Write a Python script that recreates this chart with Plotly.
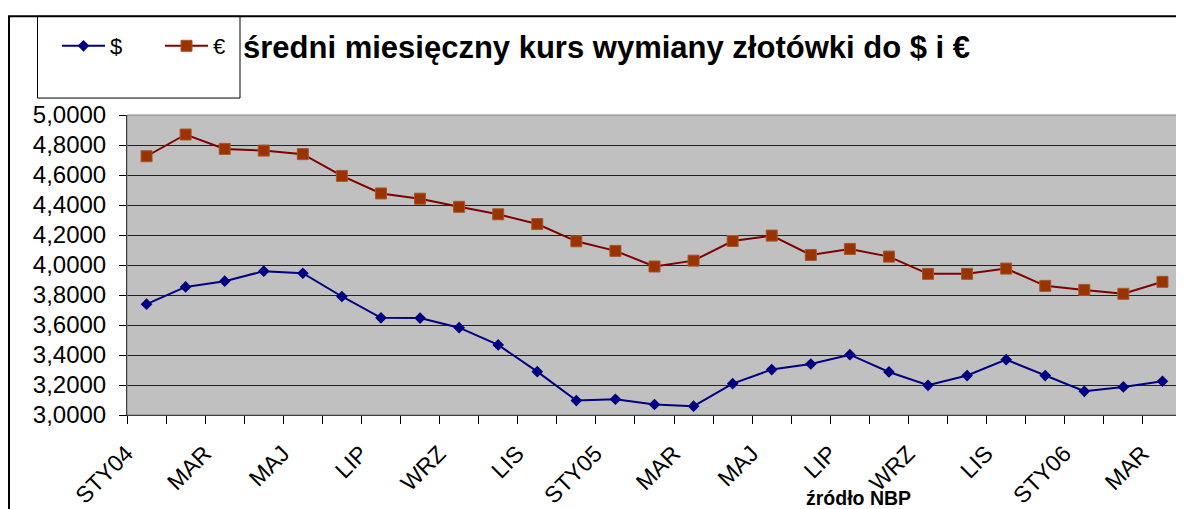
import plotly.graph_objects as go

months = ["STY04", "LUT", "MAR", "KWI", "MAJ", "CZE", "LIP", "SIE", "WRZ", "PAŹ", "LIS", "GRU",
          "STY05", "LUT", "MAR", "KWI", "MAJ", "CZE", "LIP", "SIE", "WRZ", "PAŹ", "LIS", "GRU",
          "STY06", "LUT", "MAR"]
usd = [3.739, 3.854, 3.892, 3.959, 3.945, 3.790, 3.648, 3.646, 3.582, 3.467, 3.289, 3.096,
       3.105, 3.070, 3.059, 3.209, 3.303, 3.340, 3.402, 3.287, 3.198, 3.263, 3.369, 3.263,
       3.158, 3.187, 3.225]
eur = [4.725, 4.870, 4.774, 4.763, 4.739, 4.594, 4.477, 4.442, 4.388, 4.338, 4.273, 4.158,
       4.094, 3.990, 4.029, 4.160, 4.196, 4.067, 4.107, 4.056, 3.941, 3.941, 3.976, 3.861,
       3.834, 3.808, 3.888]
series_names = ["$", "€"]
title_text = "średni miesięczny kurs wymiany złotówki do $ i €"
source_text = "źródło NBP"

# the page body adds an 8px margin, so the figure is laid out in screen coords minus 8
OFF = 8
W, H = 1184 - OFF, 509 - OFF
# plot area in screen pixels: left 127, right 1182, top 114.5, bottom 415.5
ML = 127 - OFF
MR = W - (1182 - OFF)
MT = 114.5 - OFF
MB = H - (415.5 - OFF)
PW, PH = W - ML - MR, H - MT - MB


def px(sx):
    return (sx - OFF - ML) / PW


def py(sy):
    return (H - MB - (sy - OFF)) / PH


FONT = "Arial, Liberation Sans, sans-serif"
x = list(range(len(months)))

fig = go.Figure()
fig.add_trace(go.Scatter(
    x=x, y=usd, name=series_names[0], mode="lines+markers",
    line=dict(color="#000080", width=2),
    marker=dict(symbol="diamond", size=9, color="#000080", line=dict(width=0)),
))
fig.add_trace(go.Scatter(
    x=x, y=eur, name=series_names[1], mode="lines+markers",
    line=dict(color="#800000", width=2),
    marker=dict(symbol="square", size=11, color="#993300", line=dict(width=1, color="#a8542e")),
))

tickvals = x[::2]
ticktext = months[::2]

fig.update_layout(
    width=W, height=H,
    margin=dict(l=ML, r=MR, t=MT, b=MB, pad=0),
    paper_bgcolor="white",
    plot_bgcolor="#C0C0C0",
    separators=", ",
    font=dict(family=FONT, size=22, color="black"),
    title=dict(text="<b>" + title_text + "</b>", x=(243 - OFF) / W, xanchor="left", xref="container",
               y=1 - (47 - OFF) / H, yanchor="middle", yref="container",
               font=dict(family=FONT, size=31, color="black")),
    showlegend=True,
    legend=dict(orientation="h", xref="container", yref="container",
                x=(57 - OFF) / W, xanchor="left", y=1 - (25 - OFF) / H, yanchor="top",
                bgcolor="rgba(0,0,0,0)", borderwidth=0,
                font=dict(family=FONT, size=22, color="black"),
                entrywidth=45, entrywidthmode="pixels", itemwidth=43),
    xaxis=dict(range=[-0.5, len(months) - 0.5], tickmode="array", tickvals=tickvals, ticktext=ticktext,
               tickangle=-45, ticks="", showgrid=False, zeroline=False,
               showline=True, linecolor="black", linewidth=1,
               tickfont=dict(family=FONT, size=23, color="black"),
               ticklabelshift=-20, ticklabelstandoff=15,
               minor=dict(tickmode="array", tickvals=[i - 0.5 for i in range(len(months) + 1)],
                          ticks="outside", ticklen=8, tickcolor="black", tickwidth=1, showgrid=False)),
    yaxis=dict(range=[3.0, 5.0], dtick=0.2, tick0=3.0, tickformat=".4f",
               ticks="outside", ticklen=7, tickcolor="black", tickwidth=1,
               showgrid=True, gridcolor="#222222", gridwidth=1, zeroline=False,
               showline=True, linecolor="black", linewidth=1,
               tickfont=dict(family=FONT, size=24, color="black"), ticklabelstandoff=8),
)

# plot-area border (top/right grey)
fig.add_shape(type="rect", xref="paper", yref="paper", x0=0, x1=1, y0=0, y1=1,
              line=dict(color="#808080", width=1), layer="above")
# outer chart frame
fig.add_shape(type="rect", xref="paper", yref="paper", x0=px(9), x1=px(1200), y0=py(530), y1=py(15.5),
              line=dict(color="black", width=2), layer="above")
# legend box
fig.add_shape(type="rect", xref="paper", yref="paper", x0=px(37.5), x1=px(240), y0=py(97.5), y1=py(15.5),
              line=dict(color="black", width=1), layer="above")

fig.add_annotation(text="<b>" + source_text + "</b>", xref="paper", yref="paper",
                   x=px(858), y=py(499), xanchor="center", yanchor="middle", showarrow=False,
                   font=dict(family=FONT, size=19.5, color="black"))

fig.write_html("out.html")
